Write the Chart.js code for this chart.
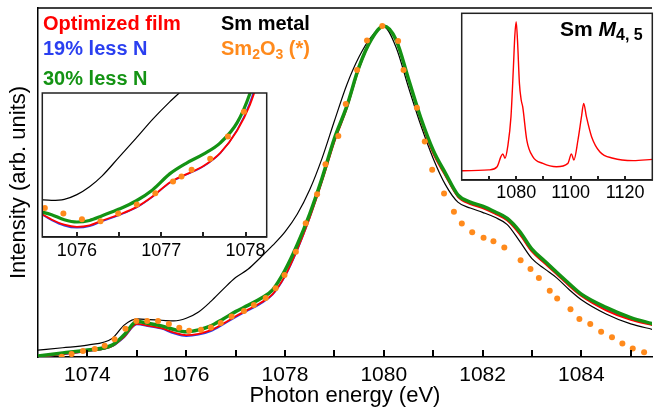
<!DOCTYPE html>
<html>
<head>
<meta charset="utf-8">
<script src="https://cdn.jsdelivr.net/npm/chart.js@4.4.0/dist/chart.umd.min.js"></script>
<style>
  body { margin: 0; background: #fff; }
  #wrap { position: relative; width: 656px; height: 413px; font-family: "Liberation Sans", Arial, sans-serif; }
  canvas { position: absolute; }
  .lg { position: absolute; font-weight: bold; font-size: 20px; line-height: 20px; white-space: nowrap; }
  .lg sub { font-size: 14px; vertical-align: -4px; line-height: 0; }
</style>
</head>
<body>
<div id="wrap">
  <canvas id="mainChart" width="656" height="413" style="left:0;top:0"></canvas>
  <canvas id="zoomChart" width="250" height="175" style="left:30px;top:89px"></canvas>
  <canvas id="edgeChart" width="206" height="192" style="left:450px;top:11px"></canvas>
  <div class="lg" style="left:43px;top:13px;color:#ff0000">Optimized film</div>
  <div class="lg" style="left:43px;top:38px;color:#2a3ff0">19% less N</div>
  <div class="lg" style="left:43px;top:68px;color:#149314">30% less N</div>
  <div class="lg" style="left:221px;top:13px;color:#000">Sm metal</div>
  <div class="lg" style="left:221px;top:38px;color:#ff8a1c">Sm<sub>2</sub>O<sub>3</sub> (*)</div>
  <div class="lg" style="left:560px;top:19px;color:#000;font-size:21px">Sm <i>M</i><sub style="font-size:16px">4, 5</sub></div>
</div>
<script>
// main spectra, intensity normalised to the M5 peak
var energy = [1073.0, 1073.5, 1074.0, 1074.5, 1074.75, 1075.0, 1075.25, 1075.5, 1075.75, 1076.0,
  1076.25, 1076.5, 1076.75, 1077.0, 1077.25, 1077.5, 1077.75, 1078.0, 1078.25, 1078.5,
  1078.75, 1079.0, 1079.25, 1079.5, 1079.75, 1080.0, 1080.25, 1080.5, 1080.75, 1081.0,
  1081.25, 1081.5, 1081.75, 1082.0, 1082.25, 1082.5, 1082.75, 1083.0, 1083.25, 1083.5,
  1083.75, 1084.0, 1084.5, 1085.0, 1085.45];
var optimized = [0.000, 0.009, 0.018, 0.033, 0.062, 0.100, 0.094, 0.087, 0.074, 0.066,
  0.070, 0.081, 0.101, 0.123, 0.143, 0.163, 0.190, 0.245, 0.325, 0.420,
  0.530, 0.650, 0.750, 0.872, 0.958, 1.000, 0.955, 0.835, 0.715, 0.615,
  0.547, 0.484, 0.462, 0.450, 0.433, 0.412, 0.371, 0.318, 0.284, 0.250,
  0.215, 0.184, 0.141, 0.112, 0.096];
var less19 = [0.000, 0.008, 0.017, 0.032, 0.060, 0.098, 0.092, 0.085, 0.071, 0.063,
  0.067, 0.078, 0.098, 0.120, 0.140, 0.160, 0.188, 0.243, 0.323, 0.420,
  0.532, 0.652, 0.752, 0.874, 0.960, 1.000, 0.957, 0.838, 0.718, 0.618,
  0.549, 0.486, 0.464, 0.452, 0.435, 0.414, 0.373, 0.320, 0.286, 0.252,
  0.217, 0.186, 0.143, 0.114, 0.097];
var less30 = [0.003, 0.012, 0.021, 0.036, 0.068, 0.107, 0.101, 0.094, 0.083, 0.076,
  0.082, 0.094, 0.115, 0.137, 0.156, 0.176, 0.203, 0.262, 0.340, 0.432,
  0.540, 0.660, 0.757, 0.877, 0.960, 1.000, 0.958, 0.840, 0.722, 0.625,
  0.555, 0.490, 0.468, 0.456, 0.439, 0.419, 0.380, 0.326, 0.291, 0.256,
  0.222, 0.190, 0.150, 0.119, 0.100];
var smMetal = [0.021, 0.028, 0.036, 0.056, 0.097, 0.115, 0.113, 0.111, 0.109, 0.117,
  0.136, 0.168, 0.205, 0.240, 0.265, 0.300, 0.337, 0.378, 0.432, 0.505,
  0.600, 0.713, 0.822, 0.907, 0.968, 0.998, 0.935, 0.815, 0.700, 0.600,
  0.520, 0.468, 0.450, 0.437, 0.422, 0.400, 0.350, 0.297, 0.267, 0.239,
  0.204, 0.173, 0.130, 0.100, 0.083];
var oxideEnergy = [1073.48, 1073.68, 1073.91, 1074.15, 1074.35, 1074.55, 1074.77, 1074.99, 1075.21, 1075.43,
  1075.65, 1075.86, 1076.06, 1076.30, 1076.50, 1076.70, 1076.92, 1077.17, 1077.37, 1077.61,
  1077.81, 1077.99, 1078.22, 1078.42, 1078.65, 1078.82, 1079.08, 1079.23, 1079.46, 1079.66,
  1079.97, 1080.29, 1080.40, 1080.67, 1080.83, 1080.98, 1081.22, 1081.42, 1081.58, 1081.79,
  1082.02, 1082.22, 1082.44, 1082.77, 1082.97, 1083.14, 1083.36, 1083.51, 1083.78, 1083.96,
  1084.18, 1084.40, 1084.62, 1084.83, 1085.04, 1085.27];
var sm2o3 = [0.001, 0.009, 0.018, 0.024, 0.034, 0.054, 0.085, 0.109, 0.109, 0.109,
  0.100, 0.088, 0.079, 0.082, 0.089, 0.103, 0.122, 0.139, 0.157, 0.178,
  0.208, 0.248, 0.318, 0.404, 0.492, 0.582, 0.668, 0.764, 0.867, 0.956,
  1.000, 0.955, 0.867, 0.753, 0.651, 0.566, 0.494, 0.439, 0.403, 0.377,
  0.360, 0.350, 0.331, 0.292, 0.266, 0.239, 0.200, 0.177, 0.144, 0.115,
  0.100, 0.076, 0.060, 0.041, 0.026, 0.014];
var mainTicks = [1074, 1075, 1076, 1077, 1078, 1079, 1080, 1081, 1082, 1083, 1084, 1085];

// zoomed pre-edge inset
var zoomEnergy = [1075.55, 1075.7, 1075.85, 1076.0, 1076.15, 1076.3, 1076.5, 1076.7, 1076.9, 1077.1,
  1077.3, 1077.5, 1077.7, 1077.9, 1078.05, 1078.2, 1078.3];
var zoomOptimized = [0.250, 0.178, 0.125, 0.103, 0.118, 0.167, 0.227, 0.300, 0.413, 0.553,
  0.637, 0.720, 0.853, 1.080, 1.337, 1.720, 2.000];
var zoomLess19 = [0.245, 0.170, 0.115, 0.093, 0.108, 0.158, 0.220, 0.295, 0.410, 0.548,
  0.632, 0.716, 0.850, 1.085, 1.360, 1.780, 2.050];
var zoomLess30 = [0.260, 0.226, 0.175, 0.152, 0.168, 0.216, 0.283, 0.365, 0.480, 0.640,
  0.750, 0.840, 0.955, 1.160, 1.453, 1.900];
var zoomMetal = [0.380, 0.372, 0.382, 0.430, 0.510, 0.620, 0.810, 1.000, 1.195, 1.370,
  1.530, 1.700];
var zoomOxideEnergy = [1075.62, 1075.84, 1076.06, 1076.28, 1076.49, 1076.71, 1076.93, 1077.14, 1077.24, 1077.36,
  1077.58, 1077.79, 1077.98];
var zoomOxide = [0.293, 0.237, 0.180, 0.160, 0.237, 0.330, 0.443, 0.563, 0.613, 0.683,
  0.793, 1.020, 1.270];
var zoomTicks = [1076, 1076.5, 1077, 1077.5, 1078];

// full Sm M4,5 edge inset
var edgeEnergy = [1060, 1070, 1073, 1074.4, 1075.1, 1075.9, 1076.9, 1078.1, 1079.0, 1079.5,
  1080.0, 1080.5, 1081.2, 1081.85, 1082.4, 1083.9, 1086.1, 1089.8, 1094.8, 1099.0,
  1100.3, 1101.2, 1102.7, 1104.0, 1104.8, 1105.8, 1107.7, 1110.7, 1115.6, 1123.0, 1130.0];
var edgeSignal = [0.058, 0.063, 0.083, 0.146, 0.163, 0.136, 0.208, 0.396, 0.708, 0.900,
  0.990, 0.870, 0.604, 0.500, 0.458, 0.250, 0.146, 0.104, 0.083, 0.104,
  0.163, 0.125, 0.250, 0.396, 0.479, 0.396, 0.271, 0.177, 0.136, 0.121, 0.129];
var edgeTicks = [1070, 1080, 1090, 1100, 1110, 1120];

var RED = '#ff0000', BLUE = '#2a3ff0', GREEN = '#149314', ORANGE = '#ff8a1c';
var FONT = '"Liberation Sans", Arial, sans-serif';

Chart.defaults.font.family = FONT;
Chart.defaults.color = '#000';

function pts(xs, ys) {
  return ys.map(function(y, i) { return {x: xs[i], y: y}; });
}

// white background + border for the insets, top line for the main frame,
// and tick marks pointing into the plot
function frame(box, borderColor, tickValues, tickLen) {
  return {
    id: 'frame',
    beforeDraw: function(chart) {
      var a = chart.chartArea, ctx = chart.ctx;
      if (box) {
        ctx.save();
        ctx.fillStyle = '#fff';
        ctx.fillRect(a.left, a.top, a.right - a.left, a.bottom - a.top);
        ctx.restore();
      }
    },
    afterDraw: function(chart) {
      var a = chart.chartArea, ctx = chart.ctx, x = chart.scales.x;
      ctx.save();
      ctx.strokeStyle = borderColor;
      ctx.lineWidth = 1.5;
      if (box) {
        ctx.strokeRect(a.left, a.top, a.right - a.left, a.bottom - a.top);
      } else {
        ctx.beginPath();
        ctx.moveTo(a.left, a.top);
        ctx.lineTo(a.right, a.top);
        ctx.stroke();
      }
      ctx.fillStyle = borderColor;
      tickValues.forEach(function(v) {
        var px = Math.round(x.getPixelForValue(v));
        ctx.fillRect(px - 1, a.bottom - tickLen, 2, tickLen);
      });
      ctx.restore();
    }
  };
}

function line(data, color, width) {
  return {
    data: data, showLine: true, borderColor: color, borderWidth: width, pointRadius: 0,
    fill: false, cubicInterpolationMode: 'monotone'
  };
}
function dots(data, r) {
  return {
    data: data, showLine: false, pointRadius: r, pointBackgroundColor: ORANGE,
    pointBorderWidth: 0, borderColor: ORANGE, backgroundColor: ORANGE
  };
}
function xAxis(min, max, ticks, keep, size, height, pad, title) {
  return {
    type: 'linear', min: min, max: max,
    afterBuildTicks: function(s) { s.ticks = ticks.map(function(v) { return {value: v}; }); },
    afterFit: function(s) { s.height = height; },
    ticks: {
      autoSkip: false, maxRotation: 0, padding: pad, color: '#000',
      font: {size: size},
      callback: function(v) { return keep(v) ? String(v) : ''; }
    },
    grid: { display: false, drawTicks: false },
    border: { display: true, color: '#000', width: 1.5 },
    title: title || { display: false }
  };
}

new Chart(document.getElementById('mainChart'), {
  type: 'scatter',
  data: {
    datasets: [
      dots(pts(oxideEnergy, sm2o3), 3),
      line(pts(energy, less30), GREEN, 3.5),
      line(pts(energy, optimized), RED, 1.8),
      line(pts(energy, less19), BLUE, 1.5),
      line(pts(energy, smMetal), '#000', 1.2)
    ]
  },
  plugins: [frame(false, '#000', mainTicks, 7)],
  options: {
    responsive: false, animation: false, devicePixelRatio: 1,
    layout: { padding: { top: 8, right: 0, left: 0, bottom: 0 } },
    plugins: { legend: { display: false }, tooltip: { enabled: false } },
    scales: {
      x: xAxis(1073, 1085.43, mainTicks, function(v) { return v % 2 === 0; }, 21, 56, 6,
        { display: true, text: 'Photon energy (eV)', font: { size: 22 }, padding: { top: 0, bottom: 4 } }),
      y: {
        min: 0, max: 1.0544,
        afterFit: function(s) { s.width = 38; },
        ticks: { display: false },
        grid: { display: false },
        border: { display: true, color: '#000', width: 1.5 },
        title: { display: true, text: 'Intensity (arb. units)', font: { size: 22 }, padding: { top: 6, bottom: 0 } }
      }
    }
  }
});

new Chart(document.getElementById('zoomChart'), {
  type: 'scatter',
  data: {
    datasets: [
      dots(pts(zoomOxideEnergy, zoomOxide), 3),
      line(pts(zoomEnergy, zoomLess30), GREEN, 3.2),
      line(pts(zoomEnergy, zoomOptimized), RED, 1.8),
      line(pts(zoomEnergy, zoomLess19), BLUE, 1.5),
      line(pts(zoomEnergy, zoomMetal), '#000', 1.2)
    ]
  },
  plugins: [frame(true, '#222', zoomTicks, 5)],
  options: {
    responsive: false, animation: false, devicePixelRatio: 1,
    layout: { padding: { top: 2, right: 13.3, left: 12.3, bottom: 0 } },
    plugins: { legend: { display: false }, tooltip: { enabled: false } },
    scales: {
      x: xAxis(1075.59, 1078.25, zoomTicks, function(v) { return Number.isInteger(v); }, 18, 27, 3),
      y: { display: false, min: 0, max: 1.46 }
    }
  }
});

new Chart(document.getElementById('edgeChart'), {
  type: 'scatter',
  data: {
    datasets: [ line(pts(edgeEnergy, edgeSignal), RED, 1.4) ]
  },
  plugins: [frame(true, '#222', edgeTicks, 4)],
  options: {
    responsive: false, animation: false, devicePixelRatio: 1,
    layout: { padding: { top: 2.3, right: 3.7, left: 11.7, bottom: 0 } },
    plugins: { legend: { display: false }, tooltip: { enabled: false } },
    scales: {
      x: xAxis(1060, 1130, edgeTicks, function(v) { return v % 20 === 0; }, 18, 23, 2),
      y: { display: false, min: 0, max: 1.042 }
    }
  }
});
</script>
</body>
</html>
